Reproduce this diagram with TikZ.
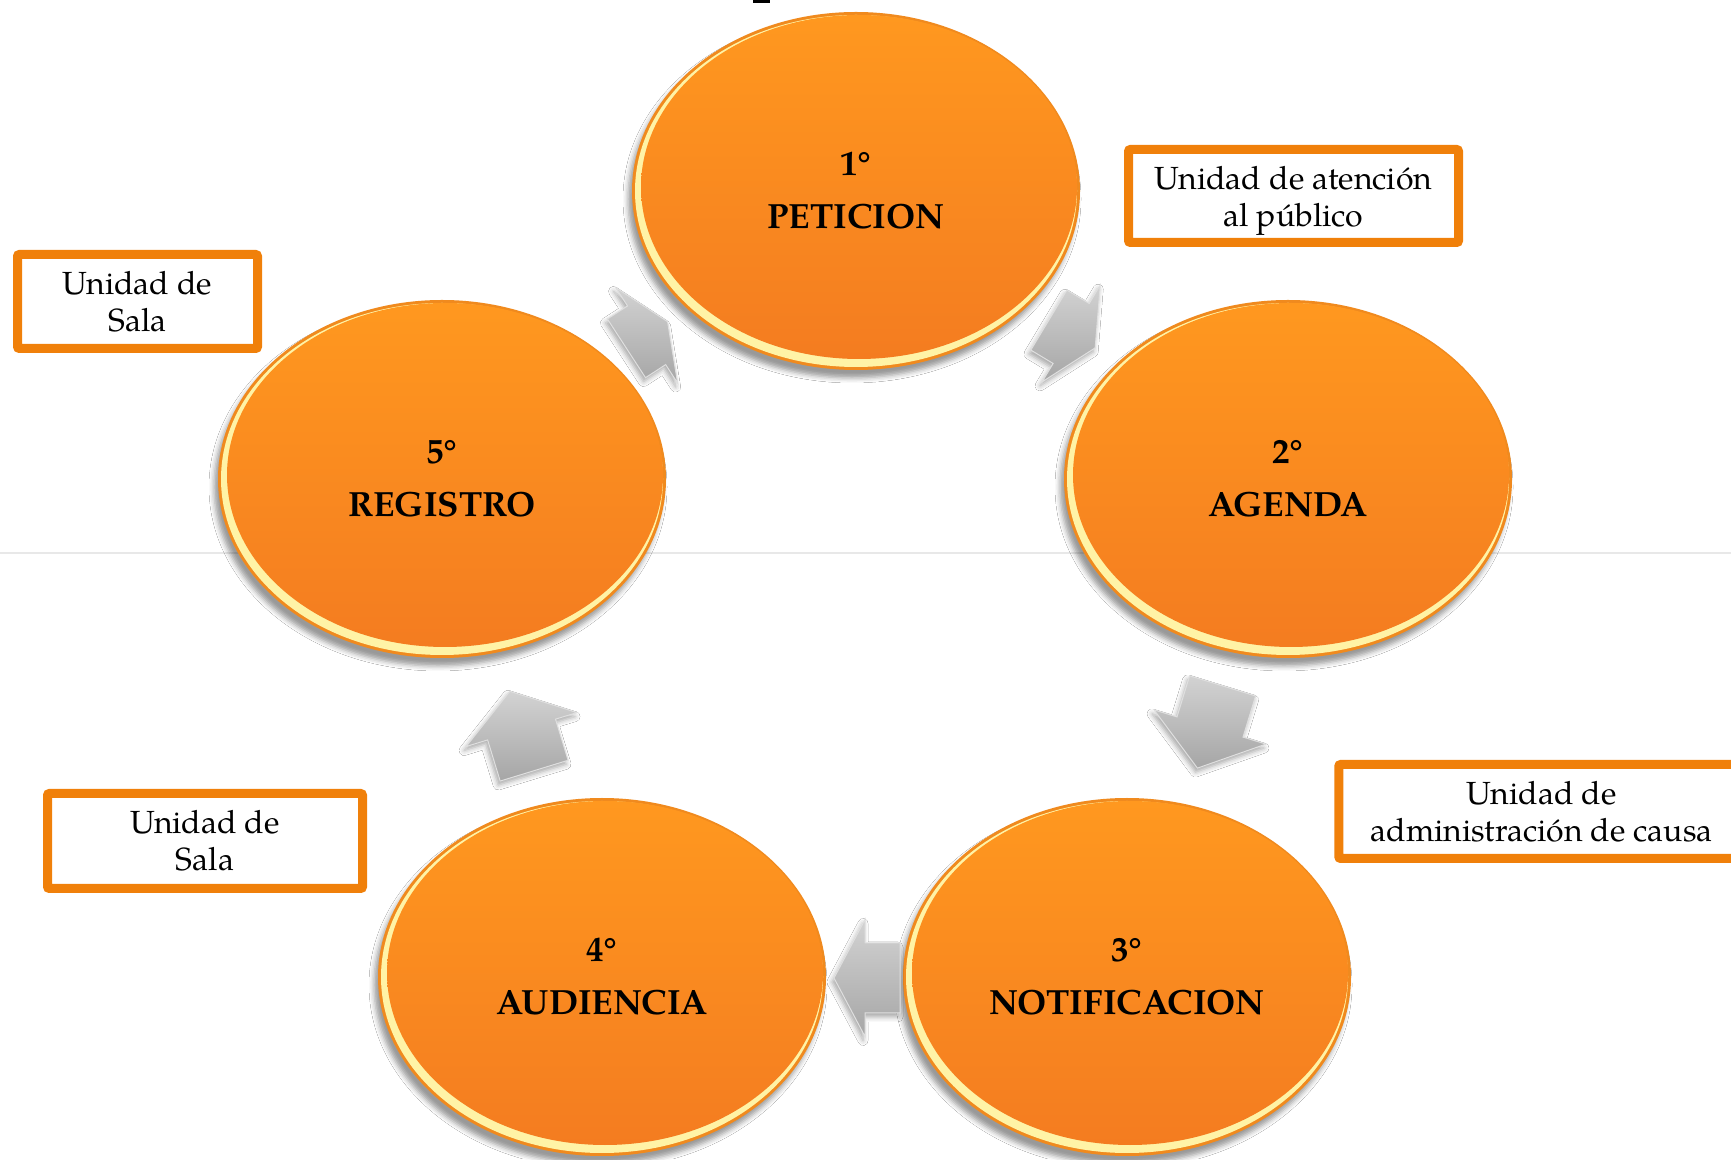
\documentclass[tikz,border=0pt]{standalone}
\usepackage{fontspec}
\setmainfont{TeX Gyre Pagella}
\usetikzlibrary{shapes.geometric,shadows.blur}
\definecolor{orangetop}{HTML}{FF981F}
\definecolor{orangebot}{HTML}{F47C20}
\definecolor{orangeedge}{HTML}{F08A1E}
\definecolor{rimyellow}{HTML}{FFF3A6}
\definecolor{boxorange}{HTML}{F0800A}
\definecolor{faintline}{HTML}{E8E8E8}
\tikzset{
  stage/.style={ellipse, minimum width=448pt, minimum height=358pt, inner sep=0pt,
    fill=orangeedge, align=center,
    font=\fontsize{35}{53}\selectfont\bfseries,
    blur shadow={shadow xshift=-4pt, shadow yshift=-8pt, shadow blur radius=5pt, shadow opacity=40},
    path picture={
      \fill[rimyellow] (path picture bounding box.center) ellipse [x radius=221, y radius=176];
      \shade[top color=orangetop, bottom color=orangebot]
        ([xshift=3pt,yshift=4pt]path picture bounding box.center) ellipse [x radius=218, y radius=172];
    }},
  infobox/.style={draw=boxorange, line width=9pt, fill=white, rounded corners=2pt,
    inner sep=0pt, align=center, font=\fontsize{32}{37}\selectfont},
  arrowbody/.style={top color=gray!35, bottom color=gray!70, draw=white!75!gray, line width=1pt,
    blur shadow={shadow xshift=-2pt, shadow yshift=-4pt, shadow blur radius=5pt, shadow opacity=35}},
  pics/blockarrow/.style n args={4}{code={
    \path[arrowbody] ({-#1/2},{-#3/2}) -- ({#1/2-#2},{-#3/2}) -- ({#1/2-#2},{-#4/2})
      -- ({#1/2},0) -- ({#1/2-#2},{#4/2}) -- ({#1/2-#2},{#3/2}) -- ({-#1/2},{#3/2}) -- cycle;
  }}
}
\begin{document}
\begin{tikzpicture}[x=1pt,y=1pt]
\useasboundingbox (0,0) rectangle (1731,1159);
\clip (0,0) rectangle (1731,1159);
\fill[white] (0,0) rectangle (1731,1159);
\draw[faintline, line width=1.5pt] (0,606) -- (1731,606);
\fill[black] (753,1156) rectangle (770,1159);

% stages
\node[stage] (s1) at (856,968) {1°\\PETICION};
\node[stage] (s2) at (1288,680) {2°\\AGENDA};
\node[stage] (s3) at (1127,182) {3°\\NOTIFICACION};
\node[stage] (s4) at (602,182) {4°\\AUDIENCIA};
\node[stage] (s5) at (442,680) {5°\\REGISTRO};

% block arrows between stages
\pic[rotate=-31] at (1072,825) {blockarrow={54}{28}{70}{113}};
\pic[rotate=-107] at (1210,432) {blockarrow={86}{43}{69}{117}};
\pic[rotate=180] at (867,181) {blockarrow={66}{31}{70}{117}};
\pic[rotate=107] at (522,428) {blockarrow={83}{40}{71}{116}};
\pic[rotate=33] at (647,824) {blockarrow={49}{25}{70}{114}};

% info boxes
\node[infobox, minimum width=330pt, minimum height=93pt] (b1) at (1293.5,963) {\rule{0pt}{34pt}Unidad de atención\\al público};
\node[infobox, minimum width=240pt, minimum height=94pt] (b5) at (137.5,857.5) {Unidad de\\Sala};
\node[infobox, minimum width=315pt, minimum height=95pt] (b4) at (205,318) {Unidad de\\Sala};
\node[infobox, minimum width=406pt, minimum height=94pt] (b3) at (1541.75,347.5) {Unidad de\\administración de causa};
\end{tikzpicture}
\end{document}
